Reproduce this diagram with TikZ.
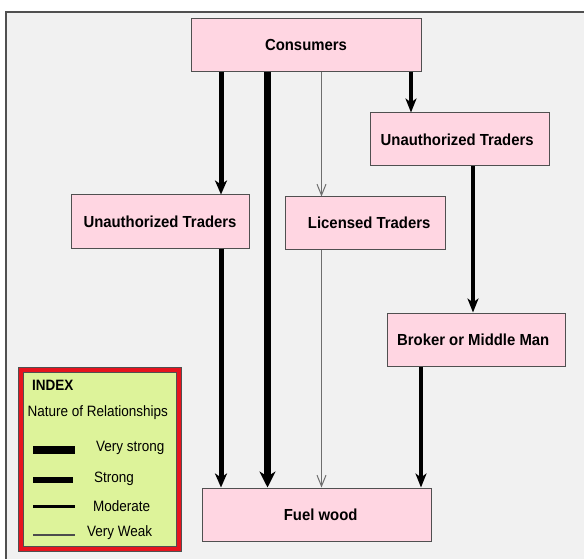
\documentclass[tikz,border=0pt]{standalone}
\usepackage{fontspec}
\setmainfont{Liberation Sans}
\usepackage{graphicx}
\usetikzlibrary{arrows.meta}
\definecolor{boxpink}{RGB}{255,214,226}
\definecolor{bgray}{RGB}{241,241,241}
\definecolor{legreen}{RGB}{221,243,154}
\definecolor{legred}{RGB}{230,20,30}
\definecolor{bdgray}{RGB}{80,80,80}
\definecolor{thingray}{RGB}{110,110,110}
\newcommand{\bxt}[1]{\scalebox{0.93}[1]{\fontsize{16}{18}\selectfont\bfseries #1}}
\newcommand{\lgt}[1]{\scalebox{0.9}[1]{\fontsize{15}{17}\selectfont #1}}
\begin{document}
\begin{tikzpicture}[x=1pt,y=-1pt,
  pbox/.style={draw=bdgray,fill=boxpink,line width=1pt,inner sep=0pt,minimum height=53pt},
  vstrong/.style={line width=7pt,-{Stealth[length=16pt,width=16pt,inset=5pt]}},
  strongarr/.style={line width=5pt,-{Stealth[length=14pt,width=12pt,inset=4pt]}},
  modarr/.style={line width=4pt,-{Stealth[length=14pt,width=11pt,inset=4pt]}},
  weakarr/.style={line width=1pt,draw=thingray,-{Straight Barb[length=11pt,width=9pt,line width=1pt]}},
  legtext/.style={anchor=west,inner sep=0pt}]
\useasboundingbox (0,0) rectangle (584,559);
% frame
\fill[bgray] (6,12) rectangle (584,559);
\draw[bdgray,line width=1.5pt] (6,559) -- (6,12) -- (584,12);
% boxes
\node[pbox,minimum width=230pt] (cons) at (306,45) {\bxt{Consumers}};
\node[pbox,minimum width=179pt] (utr) at (459.5,139.5) {\bxt{Unauthorized Traders\hspace*{5pt}}};
\node[pbox,minimum width=178pt] (utl) at (160,221.5) {\bxt{Unauthorized Traders}};
\node[pbox,minimum width=160pt,minimum height=52pt] (lic) at (365,223) {\bxt{\hspace*{9pt}Licensed Traders}};
\node[pbox,minimum width=178pt] (brk) at (476,339.5) {\bxt{Broker or Middle Man\hspace*{6pt}}};
\node[pbox,minimum width=229pt] (fuel) at (316.5,514.5) {\bxt{\hspace*{9pt}Fuel wood}};
% x positions of connectors
\coordinate (xa) at (221,0);
\coordinate (xb) at (267.5,0);
\coordinate (xc) at (321.5,0);
\coordinate (xd) at (411,0);
\coordinate (xe) at (473,0);
\coordinate (xf) at (421,0);
% connectors
\draw[strongarr] (cons.south -| xa) -- (utl.north -| xa);
\draw[vstrong] (cons.south -| xb) -- (fuel.north -| xb);
\draw[weakarr] (cons.south -| xc) -- (lic.north -| xc);
\draw[modarr] (cons.south -| xd) -- (utr.north -| xd);
\draw[modarr] (utr.south -| xe) -- (brk.north -| xe);
\draw[strongarr] (utl.south -| xa) -- (fuel.north -| xa);
\draw[weakarr] (lic.south -| xc) -- (fuel.north -| xc);
\draw[modarr] (brk.south -| xf) -- (fuel.north -| xf);
% legend
\draw[draw=bdgray,fill=legred,line width=1pt] (18,367) rectangle (181,551);
\draw[draw=bdgray,fill=legreen,line width=1pt] (23,372) rectangle (176,546);
\node[legtext] (lidx) at (32,385) {\scalebox{0.9}[1]{\fontsize{15}{17}\selectfont\bfseries INDEX}};
\node[legtext] (lnat) at (27.5,413) {\lgt{Nature of Relationships}};
\node[legtext] (lvs) at (96,448) {\lgt{Very strong}};
\node[legtext] (lst) at (94,479) {\lgt{Strong}};
\node[legtext] (lmo) at (93,506) {\lgt{Moderate}};
\node[legtext] (lvw) at (87,533) {\lgt{Very Weak}};
\draw[line width=8.6pt] (33.3,450) -- (75,450);
\draw[line width=6pt] (33.3,479.7) -- (73.3,479.7);
\draw[line width=3.3pt] (33.3,506.7) -- (75,506.7);
\draw[line width=1.5pt,draw=black!70] (33.3,535) -- (75,535);
\end{tikzpicture}
\end{document}
